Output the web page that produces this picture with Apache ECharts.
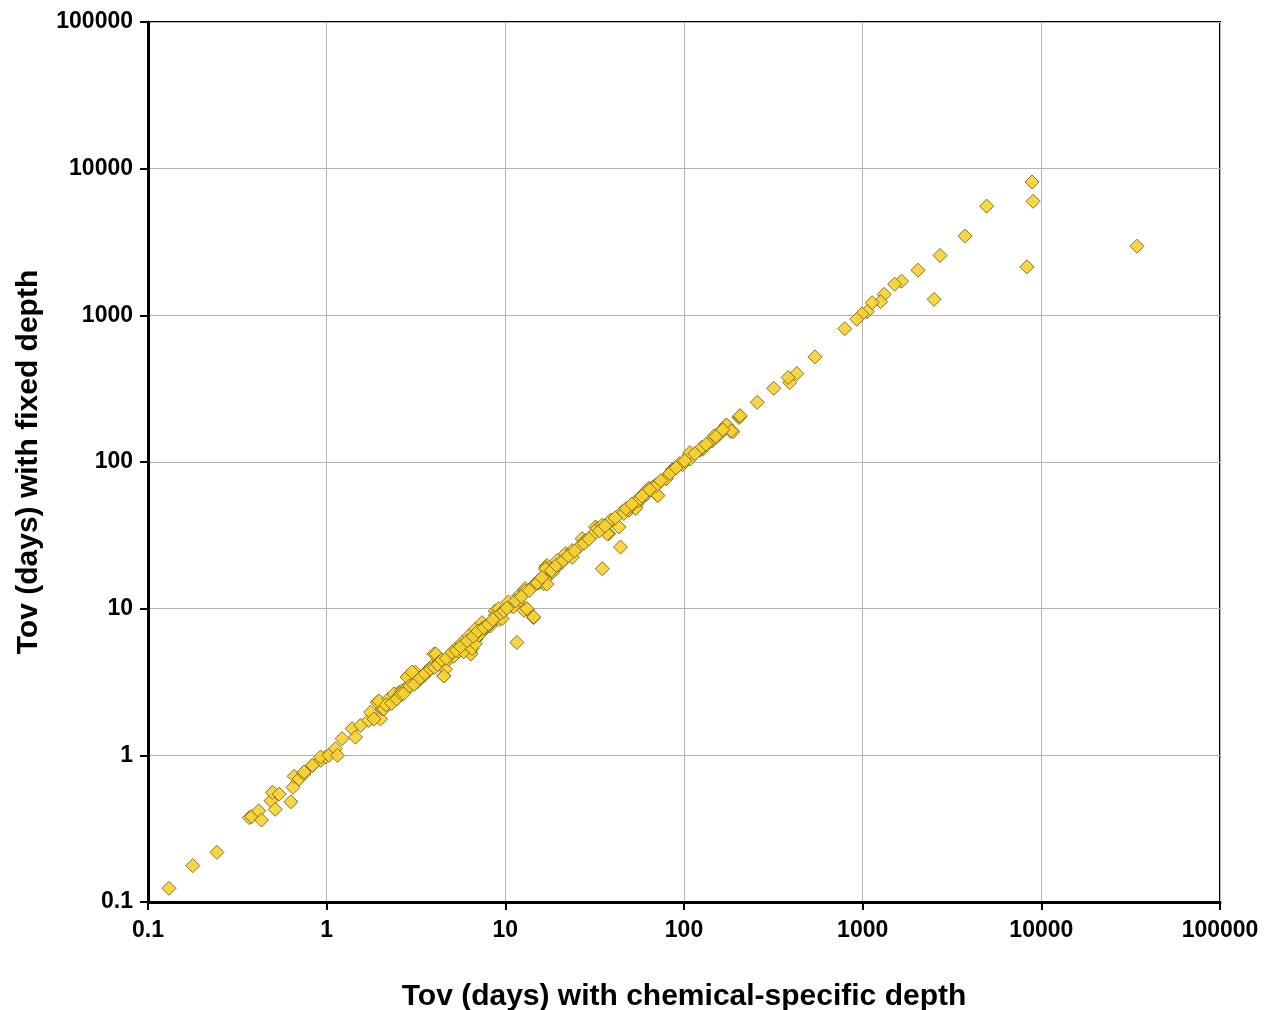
<!DOCTYPE html>
<html>
<head>
<meta charset="utf-8">
<script src="https://cdn.jsdelivr.net/npm/echarts@6/dist/echarts.min.js"></script>
<style>
html,body{margin:0;padding:0;background:#fff;}
#chart{width:1265px;height:1010px;}
</style>
</head>
<body>
<div id="chart"></div>
<script>
// Tick labels (decades)
const xTickLabels = ['0.1','1','10','100','1000','10000','100000'];
const yTickLabels = ['0.1','1','10','100','1000','10000','100000'];

const xAxisTitle = 'Tov (days) with chemical-specific depth';
const yAxisTitle = 'Tov (days) with fixed depth';

// Tov with chemical-specific depth (x)
const tovChemical = [
  0.131,0.178,0.243,0.369,0.380,0.416,0.432,0.488,0.498,0.542,0.515,0.630,0.648,0.657,0.701,0.748,0.832,0.926,0.987,
  0.747,0.832,0.925,1.03,1.12,1.15,1.22,1.39,1.45,1.55,1.72,1.76,1.92,2.00,2.05,2.23,2.43,2.54,2.76,2.88,2.95,3.14,3.28,3.50,3.73,3.98,4.06,4.43,4.53,4.62,4.93,5.26,5.73,6.37,6.24,6.80,7.41,8.24,8.79,9.18,10.0,10.9,11.6,11.9,13.2,14.4,15.4,17.1,
  1.84,1.96,2.09,2.23,2.38,2.54,2.64,2.82,3.00,3.21,3.42,3.64,3.88,4.09,4.25,4.53,4.83,5.15,5.50,6.01,6.41,6.84,7.39,7.89,
  5.85,6.24,6.51,6.80,7.10,7.41,7.73,8.24,8.79,9.18,9.58,10.4,11.1,11.9,12.7,13.2,12.9,14.4,14.4,15.4,16.4,17.1,17.5,19.0,20.7,
  12.9,14.7,17.1,16.8,19.9,21.7,23.6,26.9,32.0,34.9,37.9,44.1,43.2,39.6,45.1,53.6,58.4,63.7,69.4,70.8,78.8,86.0,97.9,107,127,144,157,171,183,203,
  16.8,18.3,19.5,23.7,25.8,28.1,30.6,32.7,34.8,37.2,38.8,46.0,49.2,53.6,56.0,61.0,
  49.5,55.2,61.5,67.0,71.5,70.0,79.6,86.7,94.6,108,122,139,159,173,188,205,
  8870,8990,4940,3740,2710,2040,8300,34300,2510,1650,1510,1320,1260,1130,1060,991,927,794,541,428,391,383,318,257,206,184,161,148,126,108,
  2.15,2.31,2.47,2.61,2.70,2.91,3.08,3.33,3.55,3.81,4.02,4.19,4.41,4.68,5.02,5.31,5.62,6.12,6.63,7.02,7.58,8.04,8.52,9.41,9.83,10.2,11.4,12.3,13.6,15.1,16.0,18.1,19.3,21.1,22.5,24.4,27.6,29.4,33.6,36.2,41.2,47.4,51.1,58.2,64.3,74.1,83.2,90.3,101,115,133,151,165
];

// Tov with fixed depth (y)
const tovFixed = [
  0.124,0.177,0.218,0.376,0.382,0.418,0.362,0.490,0.558,0.544,0.428,0.482,0.605,0.719,0.690,0.748,0.853,0.925,0.976,
  0.77,0.855,0.975,1.0,1.11,1.0,1.30,1.52,1.33,1.60,1.73,1.97,2.30,1.77,2.07,2.30,2.55,2.69,2.84,3.49,2.99,3.68,3.31,3.49,3.78,4.90,4.08,4.30,3.49,3.87,4.77,5.30,5.88,5.03,6.52,7.24,8.03,7.62,9.64,8.47,9.89,10.4,5.88,11.0,9.89,8.69,15.0,19.0,
  1.77,2.35,2.07,2.43,2.62,2.54,2.75,3.42,3.70,3.16,3.47,3.75,4.06,4.90,4.32,3.47,4.53,4.74,5.13,5.72,4.90,6.19,6.91,7.59,
  5.08,5.64,5.35,5.78,6.59,7.31,7.51,7.91,9.02,10.0,8.55,11.1,10.3,12.3,9.75,10.0,13.7,8.78,14.4,15.6,14.8,19.7,16.8,18.7,20.7,
  13.2,14.7,14.7,19.1,20.7,23.7,24.9,30.0,36.1,18.7,32.4,26.3,36.1,40.1,45.8,49.6,56.5,66.2,69.8,59.6,77.6,88.5,95.9,112,122,139,154,176,162,201,
  18.6,17.7,21.3,22.4,26.3,29.2,31.6,35.2,37.0,32.4,40.1,44.6,47.0,48.2,56.5,62.8,
  49.0,54.4,60.5,67.3,59.0,69.0,76.8,87.7,97.5,105,120,137,157,179,161,204,
  8110,5990,5550,3470,2560,2030,2140,2960,1285,1710,1630,1390,1240,1220,1060,1020,940,811,521,401,348,377,318,255,207,163,163,151,126,116,
  2.21,2.26,2.42,2.63,2.64,2.97,3.04,3.36,3.61,3.88,3.97,4.16,4.47,4.59,5.04,5.18,5.51,6.02,6.48,7.03,7.41,7.83,8.41,9.31,9.62,10.1,11.3,12.1,13.3,15.0,16.3,18.2,19.7,21.3,22.9,24.7,27.9,29.8,33.9,36.6,41.6,48.1,51.6,58.6,64.8,74.6,83.8,91.2,102,114,132,149,166
];

const points = tovChemical.map((x, i) => [x, tovFixed[i]]);

const labelFromValue = (labels) => (v) => {
  const i = Math.round(Math.log10(v)) + 1;
  return labels[i] !== undefined ? labels[i] : '';
};

const chart = echarts.init(document.getElementById('chart'));
const font = '"Liberation Sans", Arial, Helvetica, sans-serif';
chart.setOption({
  animation: false,
  backgroundColor: '#ffffff',
  grid: {
    left: 148, right: 45, top: 22, bottom: 108,
    containLabel: false, outerBoundsMode: 'none',
    show: true, borderColor: '#000', borderWidth: 2, backgroundColor: 'transparent'
  },
  xAxis: {
    type: 'log', logBase: 10, min: 0.1, max: 100000,
    name: xAxisTitle, nameLocation: 'middle', nameGap: 80,
    nameTextStyle: { fontFamily: font, fontWeight: 'bold', fontSize: 30, color: '#000' },
    axisLine: { show: true, lineStyle: { color: '#000', width: 3 } },
    axisTick: { show: true, length: 8, lineStyle: { color: '#000', width: 2 } },
    minorTick: { show: false },
    axisLabel: { formatter: labelFromValue(xTickLabels), fontFamily: font, fontWeight: 'bold', fontSize: 23, color: '#000', margin: 17 },
    splitLine: { show: true, lineStyle: { color: '#b4b4b4', width: 1 } }
  },
  yAxis: {
    type: 'log', logBase: 10, min: 0.1, max: 100000,
    name: yAxisTitle, nameLocation: 'middle', nameGap: 104,
    nameTextStyle: { fontFamily: font, fontWeight: 'bold', fontSize: 30, color: '#000' },
    axisLine: { show: true, lineStyle: { color: '#000', width: 3 } },
    axisTick: { show: true, length: 8, lineStyle: { color: '#000', width: 2 } },
    axisLabel: { formatter: labelFromValue(yTickLabels), fontFamily: font, fontWeight: 'bold', fontSize: 23, color: '#000', margin: 15 },
    splitLine: { show: true, lineStyle: { color: '#b4b4b4', width: 1 } }
  },
  series: [{
    type: 'scatter',
    data: points,
    symbol: 'diamond',
    symbolSize: 14,
    itemStyle: { color: '#FAD230', borderColor: '#76661f', borderWidth: 1, opacity: 0.9 }
  }]
});
</script>
</body>
</html>
